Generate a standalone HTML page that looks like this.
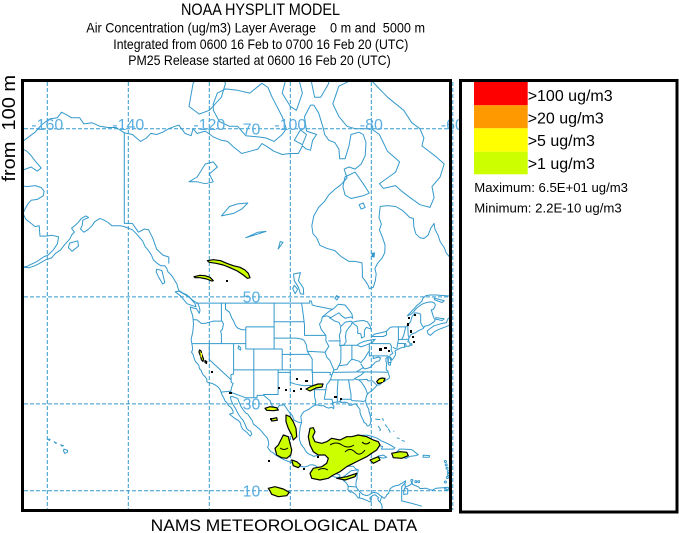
<!DOCTYPE html>
<html><head><meta charset="utf-8"><style>
html,body{margin:0;padding:0;background:#fff;}
svg{display:block;}
text{font-family:"Liberation Sans",Arial,sans-serif;}
</style></head><body>
<svg id="s" width="679" height="533" viewBox="0 0 679 533" xmlns="http://www.w3.org/2000/svg">
<rect width="679" height="533" fill="#fff"/>
<!-- titles -->
<text x="260.5" y="15" font-size="17" text-anchor="middle" textLength="159" lengthAdjust="spacingAndGlyphs">NOAA HYSPLIT MODEL</text>
<text x="86.3" y="32.5" font-size="14" textLength="338.7" lengthAdjust="spacingAndGlyphs" style="white-space:pre" xml:space="preserve">Air Concentration (ug/m3) Layer Average    0 m and  5000 m</text>
<text x="113.3" y="49" font-size="14" textLength="295" lengthAdjust="spacingAndGlyphs">Integrated from 0600 16 Feb to 0700 16 Feb 20 (UTC)</text>
<text x="128.3" y="65" font-size="14" textLength="262.4" lengthAdjust="spacingAndGlyphs">PM25 Release started at 0600 16 Feb 20 (UTC)</text>
<text x="150.7" y="531" font-size="17" textLength="266.6" lengthAdjust="spacingAndGlyphs">NAMS METEOROLOGICAL DATA</text>
<text transform="translate(15,128.3) rotate(-90)" font-size="18.5" text-anchor="middle" textLength="106.7" lengthAdjust="spacingAndGlyphs" style="white-space:pre" xml:space="preserve">from  100 m</text>

<defs><clipPath id="mc"><rect x="24" y="82" width="425.5" height="427.5"/></clipPath></defs>

<g clip-path="url(#mc)">
 <g id="coast" fill="none" stroke="#3399cc" stroke-width="1" stroke-linejoin="round"></g>
 <!-- horizontal grid -->
 <g stroke="#3399cc" stroke-width="1" stroke-dasharray="4,2">
  <line x1="24" y1="128.7" x2="450" y2="128.7"/>
  <line x1="24" y1="296.9" x2="450" y2="296.9"/>
  <line x1="24" y1="403.9" x2="450" y2="403.9"/>
  <line x1="24" y1="490.7" x2="450" y2="490.7"/>
  <line x1="47.3" y1="82" x2="47.3" y2="510"/>
  <line x1="128.3" y1="82" x2="128.3" y2="510"/>
  <line x1="209.3" y1="82" x2="209.3" y2="510"/>
  <line x1="290.3" y1="82" x2="290.3" y2="510"/>
  <line x1="371.3" y1="82" x2="371.3" y2="510"/>
 </g>
 <!-- plumes -->
 <g fill="#ccff00" stroke="#000" stroke-width="1.2" stroke-linejoin="round">
  <polygon points="207.3,260.7 213.3,259.7 220.7,260.7 226.7,263.3 233.3,265.7 240,267.3 245,270 248.3,273.3 250,277.7 247.3,278.3 243.3,275 237.3,271 230,267.7 223.3,265 216,263.3 209.3,262.3"/>
  <polygon points="194,276.7 200,275.3 205,275.7 210,277.3 213.3,280.7 211.7,281 206.7,279 200,277.7 195,277.7"/>
  <polygon points="199.5,350 201,351 202,355 203.5,359 203,361.5 201.5,360 200.5,356 199,352"/>
  <polygon points="205,360.5 206.7,361.5 206.5,363.5 205,362.5"/>
  <polygon points="376.7,381.5 379,379 382,378 385,378.5 384,381 381,383 378,383.5"/>
  <polygon points="306,389 312,386 318,384 323,384 322,387 316,388 310,391"/>
  <polygon points="265,408.3 270,406.7 276.7,407.7 278.3,410 273.3,410.7 266.7,410.3"/>
  <polygon points="271,419 276.7,417.7 277.3,420.3 271.7,421"/>
  <polygon points="286,415 290,416.7 293.3,421.7 296,428.3 296.7,436.7 293.3,440 291.7,435 288.3,428.3 286,421.7"/>
  <polygon points="283.3,435 288.3,436.7 290,443.3 291.7,450 290.7,455 286.7,458.3 281.7,457.7 276.7,455 275,448.3 278.3,445"/>
  <polygon points="291.7,460 296.7,461.7 300.7,465 298.3,467.7 293.3,465.7"/>
  <polygon points="310,428.3 313.3,427.7 315,431.7 312.7,436.7 315,441.7 321.7,443.3 326.7,441.7 331.7,438.3 340,440 346.7,436.7 351.7,436.7 358.3,435 366.7,436.7 373.3,440 378.3,441.7 380,445 376.7,450 371.7,453.3 366.7,456.7 360,460 353.3,463.3 346.7,466.7 340,471.7 333.3,475 328.3,478.3 320,480 311.7,478.3 310,473.3 313.3,468.3 321.7,466.7 326.7,463.3 328.3,458.3 325,455 318.3,455 313.3,451.7 310,445 308.3,436.7"/>
  <polygon points="370,460 378.3,456.7 380,460 373.3,463.3"/>
  <polygon points="391.7,453.3 400,451.7 406.7,452.3 408.3,455.7 401.7,458.3 393.3,457.7"/>
  <polygon points="336.7,478.3 346.7,476.7 356.7,473.3 355,476.7 345,480"/>
  <polygon points="268.3,488.3 275,486.7 283.3,489 289.3,492.3 286.7,495.7 278.3,496.7 271.7,494.3 270,491"/>
 </g>
 <g fill="none" stroke="#000" stroke-width="1">
  <path d="M330,445 q6,-4 12,0 t12,0"/>
  <path d="M345,452 q5,-5 10,0 t10,-2"/>
  <path d="M362,442 q4,4 8,0"/>
  <path d="M280,448 q4,3 8,0"/>
  <path d="M318,470 q5,-3 10,0"/>
 </g>
 <g fill="#ffff00">
  <rect x="200.5" y="353" width="1.5" height="4"/>
  <rect x="379" y="380" width="4" height="2"/>
  <rect x="268" y="408" width="6" height="1.5"/>
 </g>
 <g fill="#000">
  <rect x="226" y="280" width="2" height="2"/><rect x="211" y="371" width="2" height="2"/>
  <rect x="229" y="392" width="3" height="2"/><rect x="305" y="380" width="3" height="2"/>
  <rect x="278" y="387" width="2" height="2"/><rect x="285" y="389" width="2" height="2"/>
  <rect x="293" y="390" width="2" height="2"/><rect x="334" y="396" width="3" height="2"/>
  <rect x="340" y="398" width="2" height="2"/><rect x="379" y="348" width="3" height="3"/>
  <rect x="384" y="347" width="3" height="2"/><rect x="388" y="350" width="2" height="2"/>
  <rect x="407" y="323" width="2" height="3"/><rect x="410" y="330" width="2" height="3"/>
  <rect x="412" y="336" width="2" height="2"/><rect x="413" y="341" width="2" height="2"/>
  <rect x="300" y="388" width="2" height="2"/><rect x="296" y="378" width="2" height="2"/>
  <rect x="270" y="418" width="2" height="2"/><rect x="303" y="468" width="2" height="2"/>
  <rect x="317" y="456" width="2" height="2"/><rect x="268" y="460" width="2" height="2"/>
  <rect x="414" y="314" width="2" height="2"/><rect x="408" y="317" width="2" height="2"/>
 </g>
</g>

<!-- grid labels -->
<g fill="#5aaee0" font-size="16" text-anchor="middle">
 <text x="47.3" y="130">-160</text>
 <text x="128.3" y="130">-140</text>
 <text x="209.3" y="130">-120</text>
 <text x="290.3" y="130">-100</text>
 <text x="371.3" y="130">-80</text>
 <text x="452.3" y="130">-60</text>
 <text x="251.5" y="134.4">70</text>
 <text x="251.5" y="302.5">50</text>
 <text x="251.5" y="409.6">30</text>
 <text x="251.5" y="496.4">10</text>
</g>
<line x1="452.8" y1="82" x2="452.8" y2="510" stroke="#3399cc" stroke-width="1" stroke-dasharray="4,2"/>

<!-- main frame -->
<rect x="22.5" y="80.5" width="428" height="430" fill="none" stroke="#000" stroke-width="3"/>

<!-- legend -->
<rect x="460.5" y="80.5" width="216.5" height="431.5" fill="#fff" stroke="#000" stroke-width="3"/>
<rect x="474" y="82" width="53.7" height="23.3" fill="#ff0000"/>
<rect x="474" y="105.3" width="53.7" height="23" fill="#ff9900"/>
<rect x="474" y="128.3" width="53.7" height="23.4" fill="#ffff00"/>
<rect x="474" y="151.7" width="53.7" height="22.6" fill="#ccff00"/>
<g font-size="16">
 <text x="527.7" y="101">&gt;100 ug/m3</text>
 <text x="527.7" y="123.5">&gt;20 ug/m3</text>
 <text x="527.7" y="146">&gt;5 ug/m3</text>
 <text x="527.7" y="169">&gt;1 ug/m3</text>
</g>
<text x="474.3" y="192" font-size="13" textLength="153.7" lengthAdjust="spacingAndGlyphs">Maximum: 6.5E+01 ug/m3</text>
<text x="474.3" y="212.3" font-size="13" textLength="147.4" lengthAdjust="spacingAndGlyphs">Minimum: 2.2E-10 ug/m3</text>
</svg>
<script>
(function(){
var NS="http://www.w3.org/2000/svg";
function P(lo,la){return [695.3+4.05*lo,531.4-232.05*Math.log(Math.tan(Math.PI/4+la*Math.PI/360))];}
function D(a,c){var s="";for(var i=0;i<a.length;i+=2){var p=P(a[i],a[i+1]);s+=(i?"L":"M")+p[0].toFixed(1)+" "+p[1].toFixed(1);}return s+(c?"Z":"");}
var g=document.getElementById("coast");
function add(a,c,fill){var e=document.createElementNS(NS,"path");e.setAttribute("d",D(a,c));if(fill){e.setAttribute("fill","#3399cc");}g.appendChild(e);}
var open=[
[-166.1,68.9,-163,69.7,-161.5,70.3,-159.5,70.8,-157.5,70.9,-156.5,71.35,-155,71.1,-154,70.9,-152,70.9,-151,70.4,-149,70.5,-147,70.2,-145,70.1,-143,70.1,-141,69.65,-139,69.5,-137,68.9,-135.5,69.2,-134.5,69.6,-133,69.5,-131.5,69.7,-130,70,-128.5,70.2,-127.5,70.3,-126,69.6,-124.5,69.4,-124,70,-123,69.6,-121,69.8,-119,69.3,-117,69,-115.5,68.9,-114,68.4,-112,67.8,-110,68,-108,68.2,-107,68.7,-106,68.5,-104,68,-102,67.7,-100,67.8,-98,67.8,-97,68.5,-96,68.2,-95,68.1,-94.5,69,-93.5,69.5,-96,69.8,-96.5,71,-95,71.9,-94.2,71.9,-93,71.3,-92,70.2,-91.5,69.5,-90.5,69,-89,68.8,-88,68.2,-87.8,67.3,-86.5,67.3,-85.5,68.5,-85,69.5,-83,69.7,-82,69.5,-81.3,68.8,-81.5,67.6,-82.5,66.8,-84,66.3,-85.5,66.5,-86.7,66.3,-86,65.4,-87.5,64.7,-89,64.2,-90.5,63.6,-91.5,62.9,-93,62.2,-94.2,61.2,-94.7,60,-94.4,59,-93.5,58.5,-92.7,57.5,-91,57.1,-89,56.8,-87.5,56,-85.5,55.3,-84,55.3,-82.3,55.1,-82.2,54,-82.2,53,-81.5,52.5,-80.8,51.8,-80.5,51.3,-79.5,51.5,-79,52.5,-78.8,53.5,-79.1,54.3,-78.5,55,-77.3,55.8,-76.7,56.5,-76.6,57.5,-77.2,58.5,-78,59.5,-77.5,60.2,-78.1,61,-77.8,62.3,-76,62.4,-74,62.3,-72.5,61.9,-71.5,61.5,-70.5,61,-69.6,60.9,-69.5,59.9,-69,59,-68,58.5,-67,58.4,-66,58.8,-65.3,59.7,-64.5,60.3,-64.3,59.6,-63.5,58.8,-63,58,-62,57.2,-61.5,56.5,-60.5,55.8,-59.5,55.2,-58,54.5],
[-166.1,68.9,-166.8,68.35,-165,68,-164,67.6,-163,67.1,-161.5,66.4,-162.5,66.1,-164,66.5,-166,66.2,-168,65.6,-166.5,64.6,-165,64.5,-163,64.6,-161.5,64.4,-160.8,64,-161,63.5,-162.5,63.1,-164,63,-164.8,62.6,-165.5,62,-166,61.5,-165.3,60.8,-164,60.3,-163,59.9,-162,60,-161.9,59.3,-161.8,58.7,-160.5,58.7,-158.8,58.8,-157.2,58.6,-157.5,57.7,-158.5,56.9,-159.8,56.2,-161,55.9,-162.5,55.3,-164,54.9,-165,54.6,-166,54.5,-164.5,54.4,-163,54.7,-162,55,-160.5,55.5,-159,55.8,-158,56.4,-156.7,56.9,-155.7,57.6,-154.5,58.3,-153.9,58.9,-153.3,59.2,-154,59.7,-153,60.1,-152.2,60.5,-151.6,60.9,-150.5,61.2,-149.8,61,-151.2,60.7,-151.4,60,-151.8,59.6,-151,59.2,-150,59.5,-149,60,-148.3,60.5,-147,60.9,-146,60.7,-145,60.4,-144,60,-142,60,-141,59.9,-140,59.7,-139,59.5,-138,59,-137,58.4,-136.5,58.1,-135.8,57.3,-135,56.8,-134.3,56.2,-133.8,55.5,-132.8,55,-132,54.7,-131,54.7,-130.5,54.3,-130.2,53.8,-129.5,53.4,-129,53,-128.5,52.5,-128,52,-127.8,51.5,-127.5,51,-126.5,50.6,-125.5,50.3,-125,50,-124.5,49.7,-124,49.4,-123.2,49.1,-122.8,48.9,-122.5,48.4,-122.3,47.8,-122.5,47.3,-122.8,47.7,-123.2,48.1,-124,48.2,-124.7,48.4,-124.6,47.9,-124.3,47.3,-124.1,46.9,-124,46.3,-123.9,45.5,-124,44.7,-124.1,44,-124.3,43.4,-124.5,42.8,-124.3,42,-124.2,41.5,-124.1,40.9,-124.4,40.4,-124,40,-123.8,39.4,-123.4,38.6,-123,38.3,-122.6,37.9,-122.5,37.5,-122.4,37.2,-122,36.9,-121.9,36.6,-121.5,36,-121,35.6,-120.6,35.1,-120.6,34.6,-120,34.4,-119.3,34.3,-118.6,34,-118.3,33.8,-118,33.7,-117.3,33,-117.1,32.5,-116.8,31.8,-116.5,31.4,-116.1,30.6,-115.7,30.3,-115.3,29.7,-114.6,29.2,-114.2,28.6,-114.1,28,-115,27.8,-114.5,27.4,-113.6,26.8,-112.8,26.4,-112.3,25.8,-112.1,25,-111.7,24.4,-110.8,23.8,-110.2,23.2,-109.9,22.9,-109.5,23.3,-109.8,24,-110.3,24.2,-110.7,24.5,-111.2,25.6,-111.6,26.4,-112.2,27,-112.7,27.6,-113.1,28.3,-113.5,29,-114.1,29.8,-114.6,30.7,-114.8,31.5,-114.4,31.6,-113.5,31.3,-113,31.2,-112.7,30.5,-112.2,29.5,-111.6,28.7,-111,28,-110.5,27.8,-109.9,27,-109.4,26.4,-109.1,25.6,-108.4,25.1,-107.6,24.5,-107,23.9,-106.4,23.2,-105.7,22.5,-105.4,21.7,-105.3,20.9,-105.6,20.4,-105.3,19.9,-104.8,19.3,-104.3,19.1,-103.6,18.5,-102.5,17.9,-101.5,17.4,-100.5,17,-99.6,16.7,-98.5,16.3,-97.6,15.9,-96.5,15.7,-95.8,15.9,-95.1,16.2,-94.5,16.2,-94,16.1,-93.3,15.7,-92.5,15,-92.2,14.6,-91.4,13.95,-90.5,13.9,-89.6,13.5,-88.6,13.2,-87.8,13.3,-87.5,13,-87.3,12.9,-86.8,12.4,-86.2,11.9,-85.8,11.3,-85.7,10.8,-85.8,10.3,-85.5,9.9,-85.1,9.6,-84.7,9.7,-84.5,9.5,-84,9.2,-83.6,8.7,-83.3,8.3,-82.8,8.2,-82.2,8.1,-81.6,7.8,-81,7.6,-80.5,7.3,-80,7.4,-80.2,7.8,-80.4,8.2,-79.8,8.7,-79.5,8.9,-79,9,-78.6,8.6,-78.2,8.3,-78.4,8,-78.2,7.5,-77.8,7.2,-77.5,6.7,-77.3,6,-77.4,5.4,-77.3,4.5],
[-61,10,-61.8,10.7,-62.5,10.7,-64,10.6,-65,10.1,-66.5,10.6,-68,10.5,-68.3,10.9,-69.8,11.5,-70,12.2,-70.2,11.5,-71,11.1,-71.6,10.9,-71.7,11.8,-71.5,12.4,-72.5,11.8,-73.3,11.3,-74,11.2,-74.8,10.9,-75.3,10.5,-75.6,9.8,-75.7,9.4,-76.2,9,-76.3,8.7,-76.8,8.1,-77.3,8.5,-77.8,8.8,-78.3,9.3,-78.9,9.5,-79.5,9.6,-80,9.3,-80.5,9,-81.2,8.8,-81.8,9,-82.2,9.1,-82.4,9.4,-82.9,9.8,-83.4,10.4,-83.7,10.9,-83.8,11.6,-83.7,12.4,-83.5,13,-83.5,13.8,-83.3,14.5,-83.2,15,-83.9,15.3,-84.5,15.9,-85.5,15.9,-86.5,15.8,-87.5,15.8,-88.1,15.7,-88.6,15.8,-88.3,16.3,-88.3,17.2,-88.2,17.8,-88.1,18.4,-87.8,18.4,-87.5,19.2,-87.7,19.7,-87.4,20.3,-87,20.8,-86.8,21.3,-87.3,21.5,-88,21.5,-88.8,21.4,-89.8,21.3,-90.4,20.9,-90.5,20.1,-90.5,19.6,-91,19,-91.5,18.6,-92,18.6,-92.8,18.5,-93.5,18.4,-94.2,18.2,-94.8,18.5,-95.5,18.8,-96,19.2,-96.3,19.6,-96.5,20,-97,20.6,-97.3,21,-97.5,21.5,-97.7,22,-97.8,22.8,-97.7,23.8,-97.6,24.6,-97.5,25.2,-97.2,25.9,-97.3,26.6,-97.4,27.3,-97.1,27.8,-96.7,28.3,-96,28.6,-95.3,28.9,-94.8,29.3,-94,29.7,-93.3,29.8,-92.5,29.6,-91.7,29.6,-91.2,29.3,-90.5,29.1,-89.8,29.3,-89.3,29,-89.2,29.4,-89.5,29.8,-89.7,30.1,-89.4,30.3,-88.8,30.4,-88.1,30.4,-87.8,30.6,-87.5,30.3,-86.5,30.4,-85.8,30.2,-85.4,29.7,-84.9,29.7,-84.3,30,-83.7,29.9,-83.2,29.3,-82.8,28.8,-82.8,28.2,-82.6,27.6,-82.3,27,-82,26.5,-81.8,26,-81.3,25.7,-81,25.2,-80.6,25.2,-80.3,25.6,-80.1,26.2,-80.1,26.8,-80.3,27.6,-80.6,28.4,-80.6,28.8,-81,29.5,-81.3,30.2,-81.4,30.7,-81.3,31.3,-81.1,31.9,-80.7,32.3,-80.2,32.6,-79.6,33,-79.1,33.4,-78.6,33.9,-77.9,34,-77.4,34.5,-76.7,34.7,-76.3,35,-75.6,35.3,-75.5,35.7,-75.8,36.3,-75.9,36.8,-76.3,37,-76.3,37.6,-76.2,38.2,-76.4,38.7,-76.4,39.2,-76.1,39.5,-75.9,39.1,-75.9,38.6,-75.7,38,-75.3,37.9,-75.2,38.4,-75.1,38.8,-75.4,39.3,-75.5,39.6,-75.2,39.4,-74.9,38.9,-74.5,39.3,-74.1,39.8,-74,40.3,-74.2,40.5,-74,40.7,-73.8,40.8,-73.5,40.9,-73,41.1,-72.4,41.3,-71.9,41.3,-71.4,41.5,-71.1,41.5,-70.7,41.5,-70.6,41.7,-70,41.7,-69.95,41.9,-70.1,42.05,-70.4,41.9,-70.6,42.3,-71,42.35,-70.8,42.6,-70.7,43,-70.3,43.6,-69.8,43.8,-69,44,-68.5,44.3,-67.8,44.5,-67.2,44.7,-67,44.9,-66.9,45.1,-66.2,45.2,-65.5,45.4,-64.9,45.7,-64.5,45.9,-64.2,46.2,-64.6,46.6,-64.8,47,-65,47.5,-65.2,47.9,-64.8,47.9,-64.3,48.4,-64.2,48.8,-64.6,49.1,-65.3,49.2,-66.3,49.1,-67.2,48.9,-68,48.6,-68.8,48.2,-69.5,47.6,-70.3,47.1,-71.1,46.9,-70.7,47.2,-70,47.7,-69.4,48.1,-68.8,48.6,-68.2,48.9,-67.5,49.3,-67.2,49.8,-66.5,50.2,-65.5,50.3,-64,50.3,-62,50.2,-60,50.1],
/* borders */
[-141,69.65,-141,60.3,-139,60.3,-137.5,59.2,-136,59.6,-135,59.5,-134,58.5,-133,57,-131.5,56.2,-130,55.9,-130,55],
[-123.3,49,-95.2,49,-95.2,49.4,-94.8,49.3,-94.6,48.7,-93.5,48.5,-92,48.3,-90.5,48.1,-89.6,48],
[-76.3,44.2,-75.3,44.9,-74.7,45,-71.5,45,-71,45.3,-70.3,45.9,-70,46.7,-69.2,47.4,-68.2,47.3,-67.8,47.1,-67.8,45.7,-67.4,45.2,-67,44.8],
[-124,46.25,-123,46.2,-122,45.6,-121,45.6,-119.5,45.9,-119,46,-117,46],
[-117,49,-117,46.4,-116.9,46,-116.5,45.5,-116.8,44.5,-117.2,44.3,-117,43.7,-117,42],
[-116,49,-116,48,-115,47.5,-114.5,46.6,-114,46,-113.5,45.2,-113,44.8,-112,44.5,-111,44.5],
[-124.2,42,-111,42],[-120,42,-120,39,-114.6,35],
[-114.6,35,-114.6,34.5,-114.1,34.3,-114.5,33.5,-114.7,32.7],
[-117.1,32.5,-114.7,32.7,-114.8,32.5,-111,31.3,-108.2,31.3,-108.2,31.8,-106.5,31.8,-106,31.4,-105,30.7,-104.5,29.6,-103.2,29,-102.7,29.7,-101.5,29.8,-100.5,28.5,-99.5,27.5,-99.1,26.5,-98,26,-97.2,25.9],
[-114,42,-114,36.2,-114.7,36,-114.6,35],[-114.05,37,-94.6,37],[-109,41,-109,31.3],
[-111,45,-111,41,-104,41],[-111,45,-104,45],[-104,49,-104,41],[-109,41,-102,41],[-102,41,-102,37],
[-102,40,-95.3,40],[-104,43,-98.5,43,-97,42.8,-96.5,42.5],[-104,45.9,-96.6,45.9],
[-97.2,49,-96.8,47,-96.6,45.9,-96.5,45.3,-96.5,43.5,-91.2,43.5],
[-96.5,42.5,-96,41.7,-95.8,40.6,-95.3,40],[-95.8,40.6,-91.4,40.4],[-95.3,40,-94.6,39.1,-94.6,36.5,-90.1,36.5,-90.2,36,-89.7,36],
[-103,37,-103,36.5,-100,36.5,-100,34.5,-99,34.2,-98,34,-96.5,33.8,-95,33.9,-94.5,33.6,-94.5,35.4,-94.6,37],
[-103,36.5,-103,32,-106.6,32,-106.5,31.8],[-94.5,33.6,-94.05,33.5,-94.05,33,-94,31.5,-93.7,30.5,-93.8,29.7],
[-94.05,33,-91.2,33],[-89.7,36,-90.1,35,-91,34,-91.2,33,-91.5,31.5,-91.6,31,-89.7,31,-89.5,30.2],
[-91.2,43.5,-91.2,42.5,-90.5,41.5,-91.4,40.4,-91,39.5,-90.2,38.8,-89.5,37.5,-89.2,37,-89.5,36.5,-89.7,36],
[-92.1,46.7,-92.3,46,-92.8,45.5,-92.4,44.6,-91.2,43.5],[-90.6,42.5,-87.8,42.5],[-90.4,46.6,-89,46,-88,45.8,-87.6,45.2],
[-87.5,41.7,-87.5,39.3,-87.6,38.5,-88,37.8],
[-89.2,37,-88.5,37.1,-88,37.8,-87,37.9,-86,38,-85.5,38.5,-84.8,39.1,-83,38.7,-82.6,38.4,-81.7,39.2,-80.6,40.6],
[-84.8,41.7,-84.8,39.1],[-87.5,41.7,-83.5,41.7],[-80.5,42,-80.5,39.7,-75.8,39.7],[-79.8,42.3,-79.8,42,-75.4,42],
[-75.4,42,-75,41.5,-75.1,40.8,-74.7,40.2,-75.5,39.8],
[-79.5,39.7,-79.5,39.2,-78.3,39.5,-77.7,39.3,-78,38.8,-79,38.5,-79.6,38,-80.3,37.5,-81,37.3,-81.7,37.2,-82.6,38.2],
[-81.9,37.5,-83.7,36.6],[-89.5,36.5,-81.7,36.6,-75.9,36.55],[-81.7,36.6,-82.5,36,-84.3,35.2],[-90.3,35,-84.3,35],
[-84.3,35.2,-83.1,35,-82.4,34.5,-81.4,33.2,-80.9,32],[-83.1,35,-81,35.1,-80.8,34.8,-79.7,34.8,-78.6,33.9],
[-88.2,35,-88.4,33,-88.4,30.4],[-85.6,35,-85.2,32.9,-85,32,-85,31,-87.6,31,-87.5,30.3],[-85,31,-84.8,30.7,-82.5,30.6,-82,30.5,-81.5,30.7],
[-75.8,39.7,-75.8,38.45,-75.05,38.45],[-74.7,41.35,-73.9,41],[-73.7,41,-73.5,42,-73.3,42.7,-73.3,45],
[-73.5,42.05,-71.8,42,-71.5,42,-71.4,41.5],[-71.8,42,-71.8,41.3],[-73.3,42.75,-71,42.8,-70.8,42.9],[-72.5,42.75,-72,43.5,-71.5,45],[-71,45.3,-70.9,43.5,-70.7,43.1],
[-92.2,14.6,-92.2,15.3,-91.7,16.1,-90.5,16.1,-90.4,17.8,-89.1,17.8,-88.3,18.5],[-89.1,17.8,-89.2,15.9],[-88.2,15.7,-89.2,14.5,-90,13.8],
[-89.2,14.4,-87.8,13.8,-87.7,13.2],[-87.3,13,-86,14,-85,14.8,-83.2,15],[-85.7,11.1,-83.7,10.9],[-82.9,8.2,-82.9,9.5],[-77.9,7.2,-77.4,8.6],
[-71.5,12,-72.5,11,-72.5,9,-72.5,7.5,-70,6.9,-67.5,6.2],
/* bahamas */
[-79,26.7,-77.8,26.6],[-77.2,26.9,-77,26.3],[-78.3,25.2,-77.7,24.3,-78,24.1],[-76.6,25.5,-76,24.8],[-75.8,24.6,-75.3,23.7],[-74.5,24.1,-74.4,23.9],[-73.7,22.5,-73,22.3],[-72.5,21.9,-71.7,21.7]
];
var closed=[
[-125,71.8,-124,73.5,-122,74.3,-118,74.5,-116,73.5,-117,72.5,-120,71.5,-122.5,71.2],
[-119,71.5,-117.5,70.6,-115,70.2,-113,70.2,-111,69.4,-108,69.3,-106,69.2,-104,68.9,-102,69.5,-101,70,-102,71,-104.5,72.5,-105.5,73.2,-107,73.5,-110,72.8,-113,73,-116,73.1,-118,72.8,-119,72],
[-101,73.9,-98,73.9,-97,72.8,-98.5,71.5,-100,71.8,-102,72.8],
[-95,73.9,-94,72.5,-92.5,72.5,-90.5,73.5,-91,74.2],
[-99,69,-97,68.6,-96,69.5,-97.5,69.9],
[-80,73.7,-76,72.5,-72,71.5,-70,70.5,-68,70,-67,69.2,-67.5,68.5,-64,67.5,-62,66.8,-63,65.5,-65,64.5,-64.5,63.3,-65.5,62.2,-68,62.5,-71,63.5,-72.5,64,-74,64.6,-77,64.3,-78,64.8,-74,66,-73,67,-76,68,-78,69.5,-80,70,-84,70,-86,70.2,-88,71,-89.5,72,-88,73.3,-85,73.7],
[-87,64.5,-86.5,65.5,-84,66,-82,64.8,-80.5,63.8,-82,63.5,-85,63.2,-86.5,63.6],
[-83,62.5,-82,62.7,-81.5,62.2,-82.5,62],
[-125,65,-123,65.5,-121,66.8,-119,67,-118,66.5,-120,65.8,-119,65,-121,64.8,-123,65],
[-117,61.2,-114,61.5,-112,62,-110.5,62.7,-113,62.6,-115,62.3,-116.5,61.5],
[-111,58.5,-108,59.2,-106,59.3,-109,58.8],
[-97.5,50.5,-98,51.5,-99,52.5,-99.2,53.5,-97.5,53.7,-98,52.5,-96.8,51.4,-96.7,50.4],
[-98.8,50.5,-98.2,51.2,-99,51.8,-99.4,51.3],
[-103,57,-101.8,57.9,-102.5,58,-102.8,57.4],
[-92.1,46.7,-91,46.9,-90,46.6,-88.5,47.2,-88,47.4,-87.5,47,-86.5,46.5,-85,46.7,-84.6,46.5,-84.8,47.2,-85.5,47.9,-86.5,48.7,-88.2,48.8,-89.3,48.1,-90.5,47.6],
[-87.8,41.6,-87.7,42.5,-87.9,43.5,-87.5,44.3,-87.6,45,-86.5,45.8,-85,46,-84.7,45.8,-85,45.3,-85.6,44.8,-86.2,44.2,-86.4,43.2,-86.2,42.4,-86.8,41.7],
[-84.7,45.8,-83.5,46,-82,46.1,-81,45.9,-80.5,45.4,-80,44.6,-81.2,44.9,-81.7,44.4,-81.7,43.3,-82.4,43,-82.6,43.8,-83.4,43.9,-83.3,44.4,-83.5,45.1,-84.5,45.6],
[-83.5,41.7,-82.5,41.4,-81,41.8,-79.8,42.2,-79,42.8,-80.5,42.6,-81.8,42.4,-83,42],
[-79.8,43.3,-79,43.3,-77,43.3,-76.2,43.6,-76.3,44.2,-77.5,44,-79.3,43.7],
[-88.5,49.5,-88,50,-88.6,50.2,-89,49.8],
[-112.8,41.6,-112.2,41.2,-112.3,40.8,-112.9,41.1],
[-133,54.2,-131.7,54,-131,52.2,-131.5,52,-132.5,53,-133.1,53.8],
[-128.4,50.8,-127,50.1,-125.5,48.9,-123.3,48.4,-123.5,48.9,-125,50,-127.5,50.9],
[-154.5,57.8,-152.5,58.1,-152.3,57.4,-153.9,56.7,-154.8,57.2],
[-66,43.8,-65.4,43.5,-64.5,44.1,-63.5,44.5,-62,44.9,-61,45.2,-60,45.6,-60.5,46.5,-61,46.5,-61.5,45.7,-62.5,45.6,-64,45.3,-64.5,45.2,-65.5,44.7,-66.2,44.3],
[-64.1,46.6,-62,46.4,-62.5,46.1,-64,46.3],
[-64.5,49.8,-62,49.4,-62.5,49.1,-64.3,49.5],
[-84.9,21.9,-84,22.7,-82.5,23.1,-81,23.1,-80,22.9,-78.5,22.4,-77.5,21.8,-76,21.2,-75,20.7,-74.2,20.2,-74.5,19.9,-75.5,19.9,-77.5,19.9,-77.2,20.5,-78,20.7,-79.5,21.6,-81,22,-82,22.2,-83,22,-84,21.9],
[-74.5,18.4,-73,19.9,-72,19.9,-70,19.8,-68.4,18.6,-69,18.4,-70.5,18.2,-71.5,17.7,-72.5,18.2,-74.2,18.1],
[-78.3,18.3,-77,18.5,-76.2,18,-77,17.8,-78,18],
[-67.2,18.5,-65.6,18.4,-65.7,18,-67.2,18],
[-61.9,10.8,-61,10.8,-61,10.1,-61.8,10.1],
[-71.7,10.7,-71,10.4,-71,9.2,-72,9.1,-72,10],
[-155.9,19.9,-155,19.6,-155,19.2,-155.7,18.9,-156,19.5],
[-156.7,20.9,-156,20.7,-156.4,20.6],[-158.3,21.6,-157.7,21.3,-158,21.3],[-159.8,22.2,-159.3,22.2,-159.5,21.9],
[-83,21.8,-82.6,21.6,-82.8,21.5]
];
var i;
for(i=0;i<open.length;i++)add(open[i],false);
for(i=0;i<closed.length;i++)add(closed[i],true);
add([-79.8,56.4,-79.2,56.5,-79.3,55.9,-79.8,56],true,true);
var dots=[-61.7,17,-61.5,16.2,-61.3,15.4,-61,14.6,-61,13.9,-61.2,13.2,-61.7,12.1,-69,12.2,-68.3,12.2,-70,12.5];
for(i=0;i<dots.length;i+=2){var p=P(dots[i],dots[i+1]);var c=document.createElementNS(NS,"circle");c.setAttribute("cx",p[0].toFixed(1));c.setAttribute("cy",p[1].toFixed(1));c.setAttribute("r","1");g.appendChild(c);}
})();
</script>
</body></html>
